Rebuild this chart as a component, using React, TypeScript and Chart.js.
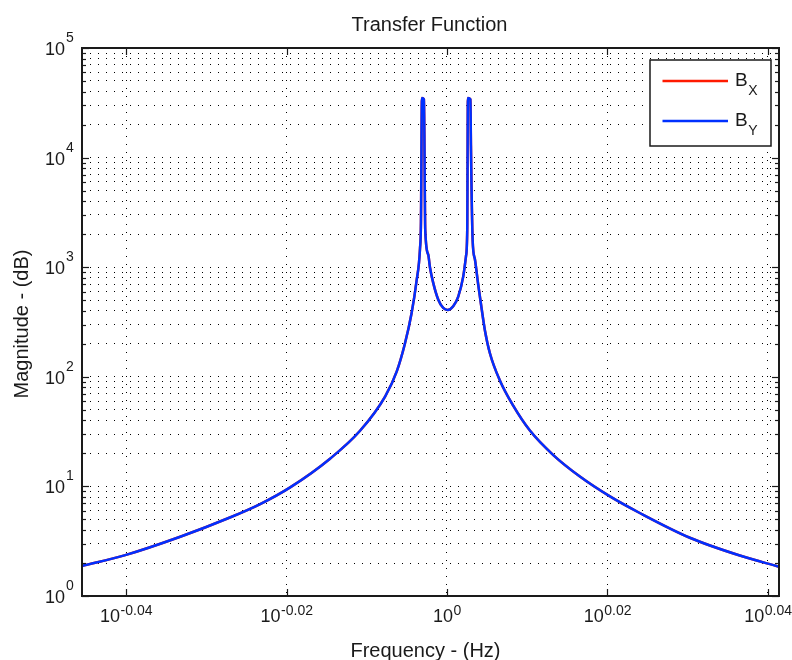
import React, { useEffect, useRef } from 'react';
import { Chart, registerables } from 'chart.js';

Chart.register(...registerables);

// ---- data ----
const frequencyHz = [
  0.9005, 0.9118, 0.9263, 0.9396, 0.9478, 0.956, 0.967, 0.9753, 0.9824, 0.9857,
  0.988, 0.9899, 0.9913, 0.9923, 0.99257, 0.99285, 0.99342, 0.99379, 0.99465, 0.99513,
  0.99607, 0.99752, 0.99894, 1.0002, 1.0018, 1.00325, 1.00468, 1.00547, 1.00584, 1.00604,
  1.00677, 1.00691, 1.0074, 1.00807, 1.00902, 1.01, 1.01096, 1.01241, 1.01531, 1.0192,
  1.0241, 1.031, 1.0389, 1.0479, 1.0569, 1.0722, 1.0877, 1.1,
];
const magnitudeBy = [
  1.88, 2.36, 3.47, 5.2, 6.9, 9.8, 17.9, 32, 66, 112,
  200, 380, 741, 1480, 2600, 35000, 34000, 2200, 1300, 1000,
  720, 505, 425, 407, 440, 540, 820, 1250, 2180, 35000,
  34000, 13000, 1770, 1175, 692, 420, 265, 164, 92.5, 54.5,
  32.3, 19.3, 12.3, 8.1, 5.72, 3.4, 2.34, 1.85,
];
// B_X coincides with B_Y in the reference (fully hidden under it)
const magnitudeBx = magnitudeBy.slice();

const seriesLabels = ['B_X', 'B_Y'];
const seriesColors = ['#ff1a00', '#0030ff'];
const xTickExponents = [-0.04, -0.02, 0, 0.02, 0.04];
const yDecades = [0, 1, 2, 3, 4, 5];
const yMinorMultipliers = [2, 3, 4, 5, 6, 7, 8, 9];
const titleText = 'Transfer Function';
const xAxisTitle = 'Frequency - (Hz)';
const yAxisTitle = 'Magnitude - (dB)';
const xMin = 0.90055;
const xMax = 1.1;
const yMin = 1;
const yMax = 100000;

const FONT = "'Liberation Sans', Arial, Helvetica, sans-serif";
const TEXT = '#1a1a1a';

function fmtExp(e: number): string {
  if (e === 0) return '0';
  return (e < 0 ? '-' : '') + Math.abs(e).toFixed(2);
}

const decorPlugin = {
  id: 'matlabDecor',
  afterDraw(chart: any) {
    const { ctx, chartArea: a, scales } = chart;
    const xs = scales.x;
    const ys = scales.y;
    ctx.save();

    const line = (x1: number, y1: number, x2: number, y2: number) => {
      ctx.beginPath();
      ctx.moveTo(x1, y1);
      ctx.lineTo(x2, y2);
      ctx.stroke();
    };

    // tick marks (inward, all four sides)
    ctx.strokeStyle = '#1a1a1a';
    ctx.lineWidth = 1.2;
    xs.ticks.forEach((t: any) => {
      const px = Math.round(xs.getPixelForValue(t.value)) + 0.5;
      line(px, a.bottom, px, a.bottom - 7);
      line(px, a.top, px, a.top + 7);
    });
    ys.ticks.forEach((t: any) => {
      const lg = Math.log10(t.value);
      const major = Math.abs(lg - Math.round(lg)) < 1e-9;
      const len = major ? 7 : 4;
      const py = Math.round(ys.getPixelForValue(t.value)) + 0.5;
      line(a.left, py, a.left + len, py);
      line(a.right, py, a.right - len, py);
    });

    // frame
    ctx.lineWidth = 2;
    ctx.strokeRect(a.left, a.top, a.right - a.left, a.bottom - a.top);

    ctx.fillStyle = TEXT;
    ctx.textBaseline = 'alphabetic';

    // x tick labels 10^e
    xTickExponents.forEach((e) => {
      const px = xs.getPixelForValue(Math.pow(10, e));
      const exp = fmtExp(e);
      ctx.font = `18px ${FONT}`;
      const w10 = ctx.measureText('10').width;
      ctx.font = `14px ${FONT}`;
      const wE = ctx.measureText(exp).width;
      const start = px - (w10 + wE) / 2;
      ctx.textAlign = 'left';
      ctx.font = `18px ${FONT}`;
      ctx.fillText('10', start, a.bottom + 26);
      ctx.font = `14px ${FONT}`;
      ctx.fillText(exp, start + w10 + 0.5, a.bottom + 19);
    });

    // y tick labels 10^d
    yDecades.forEach((d) => {
      const py = ys.getPixelForValue(Math.pow(10, d));
      ctx.textAlign = 'right';
      ctx.font = `18px ${FONT}`;
      ctx.fillText('10', a.left - 17, py + 7);
      ctx.textAlign = 'left';
      ctx.font = `14px ${FONT}`;
      ctx.fillText(String(d), a.left - 16, py - 6);
    });

    // title & axis titles
    ctx.font = `20px ${FONT}`;
    ctx.textAlign = 'center';
    ctx.fillText(titleText, (a.left + a.right) / 2 - 1, 31);
    ctx.fillText(xAxisTitle, (a.left + a.right) / 2 - 5, 657);
    ctx.save();
    ctx.translate(28, (a.top + a.bottom) / 2 + 2);
    ctx.rotate(-Math.PI / 2);
    ctx.fillText(yAxisTitle, 0, 0);
    ctx.restore();

    // legend
    const bw = 121;
    const bh = 86;
    const bx = a.right - 8 - bw;
    const by = a.top + 12;
    ctx.fillStyle = '#ffffff';
    ctx.fillRect(bx, by, bw, bh);
    ctx.strokeStyle = '#1a1a1a';
    ctx.lineWidth = 1.5;
    ctx.strokeRect(bx, by, bw, bh);
    chart.data.datasets.forEach((ds: any, i: number) => {
      const rowY = by + 21 + i * 40;
      ctx.strokeStyle = ds.borderColor;
      ctx.lineWidth = 2.5;
      line(bx + 12.5, rowY, bx + 78, rowY);
      const [base, sub] = String(ds.label).split('_');
      ctx.fillStyle = TEXT;
      ctx.textAlign = 'left';
      ctx.font = `19px ${FONT}`;
      ctx.fillText(base, bx + 85, rowY + 5);
      const wb = ctx.measureText(base).width;
      ctx.font = `14px ${FONT}`;
      ctx.fillText(sub, bx + 85 + wb + 0.5, rowY + 14);
    });

    ctx.restore();
  },
};

export default function App() {
  const ref = useRef<HTMLCanvasElement>(null);

  useEffect(() => {
    document.body.style.margin = '0';
    const canvas = ref.current;
    if (!canvas) return;

    const gridCommon = {
      color: '#000000',
      lineWidth: 1,
      drawTicks: false,
      borderDash: [1, 7],
    };

    const chart = new Chart(canvas, {
      type: 'line',
      data: {
        datasets: [
          {
            label: seriesLabels[0],
            data: frequencyHz.map((f, i) => ({ x: f, y: magnitudeBx[i] })),
            borderColor: seriesColors[0],
            backgroundColor: seriesColors[0],
            borderWidth: 2.5,
            pointRadius: 0,
            cubicInterpolationMode: 'monotone',
            borderJoinStyle: 'bevel',
            order: 2,
          },
          {
            label: seriesLabels[1],
            data: frequencyHz.map((f, i) => ({ x: f, y: magnitudeBy[i] })),
            borderColor: seriesColors[1],
            backgroundColor: seriesColors[1],
            borderWidth: 2.5,
            pointRadius: 0,
            cubicInterpolationMode: 'monotone',
            borderJoinStyle: 'bevel',
            order: 1,
          },
        ],
      },
      options: {
        responsive: false,
        animation: false,
        devicePixelRatio: 1,
        layout: { padding: { left: 82, top: 48, right: 13, bottom: 64 } },
        plugins: {
          legend: { display: false },
          title: { display: false },
          tooltip: { enabled: false },
        },
        scales: {
          x: {
            type: 'logarithmic',
            min: xMin,
            max: xMax,
            ticks: { display: false },
            grid: gridCommon,
            border: { display: false, dash: [1, 7] },
            afterBuildTicks: (s: any) => {
              s.ticks = xTickExponents.map((e) => ({ value: Math.pow(10, e) }));
            },
          },
          y: {
            type: 'logarithmic',
            min: yMin,
            max: yMax,
            ticks: { display: false },
            grid: gridCommon,
            border: { display: false, dash: [1, 7] },
            afterBuildTicks: (s: any) => {
              const t: any[] = [];
              yDecades.forEach((d) => {
                t.push({ value: Math.pow(10, d) });
                if (d < yDecades[yDecades.length - 1]) {
                  yMinorMultipliers.forEach((m) => t.push({ value: m * Math.pow(10, d) }));
                }
              });
              s.ticks = t;
            },
          },
        },
      } as any,
      plugins: [decorPlugin],
    });

    return () => chart.destroy();
  }, []);

  return (
    <div style={{ position: 'absolute', left: 0, top: 0, width: 792, height: 660, background: '#ffffff' }}>
      <canvas ref={ref} width={792} height={660} style={{ display: 'block' }} />
    </div>
  );
}
